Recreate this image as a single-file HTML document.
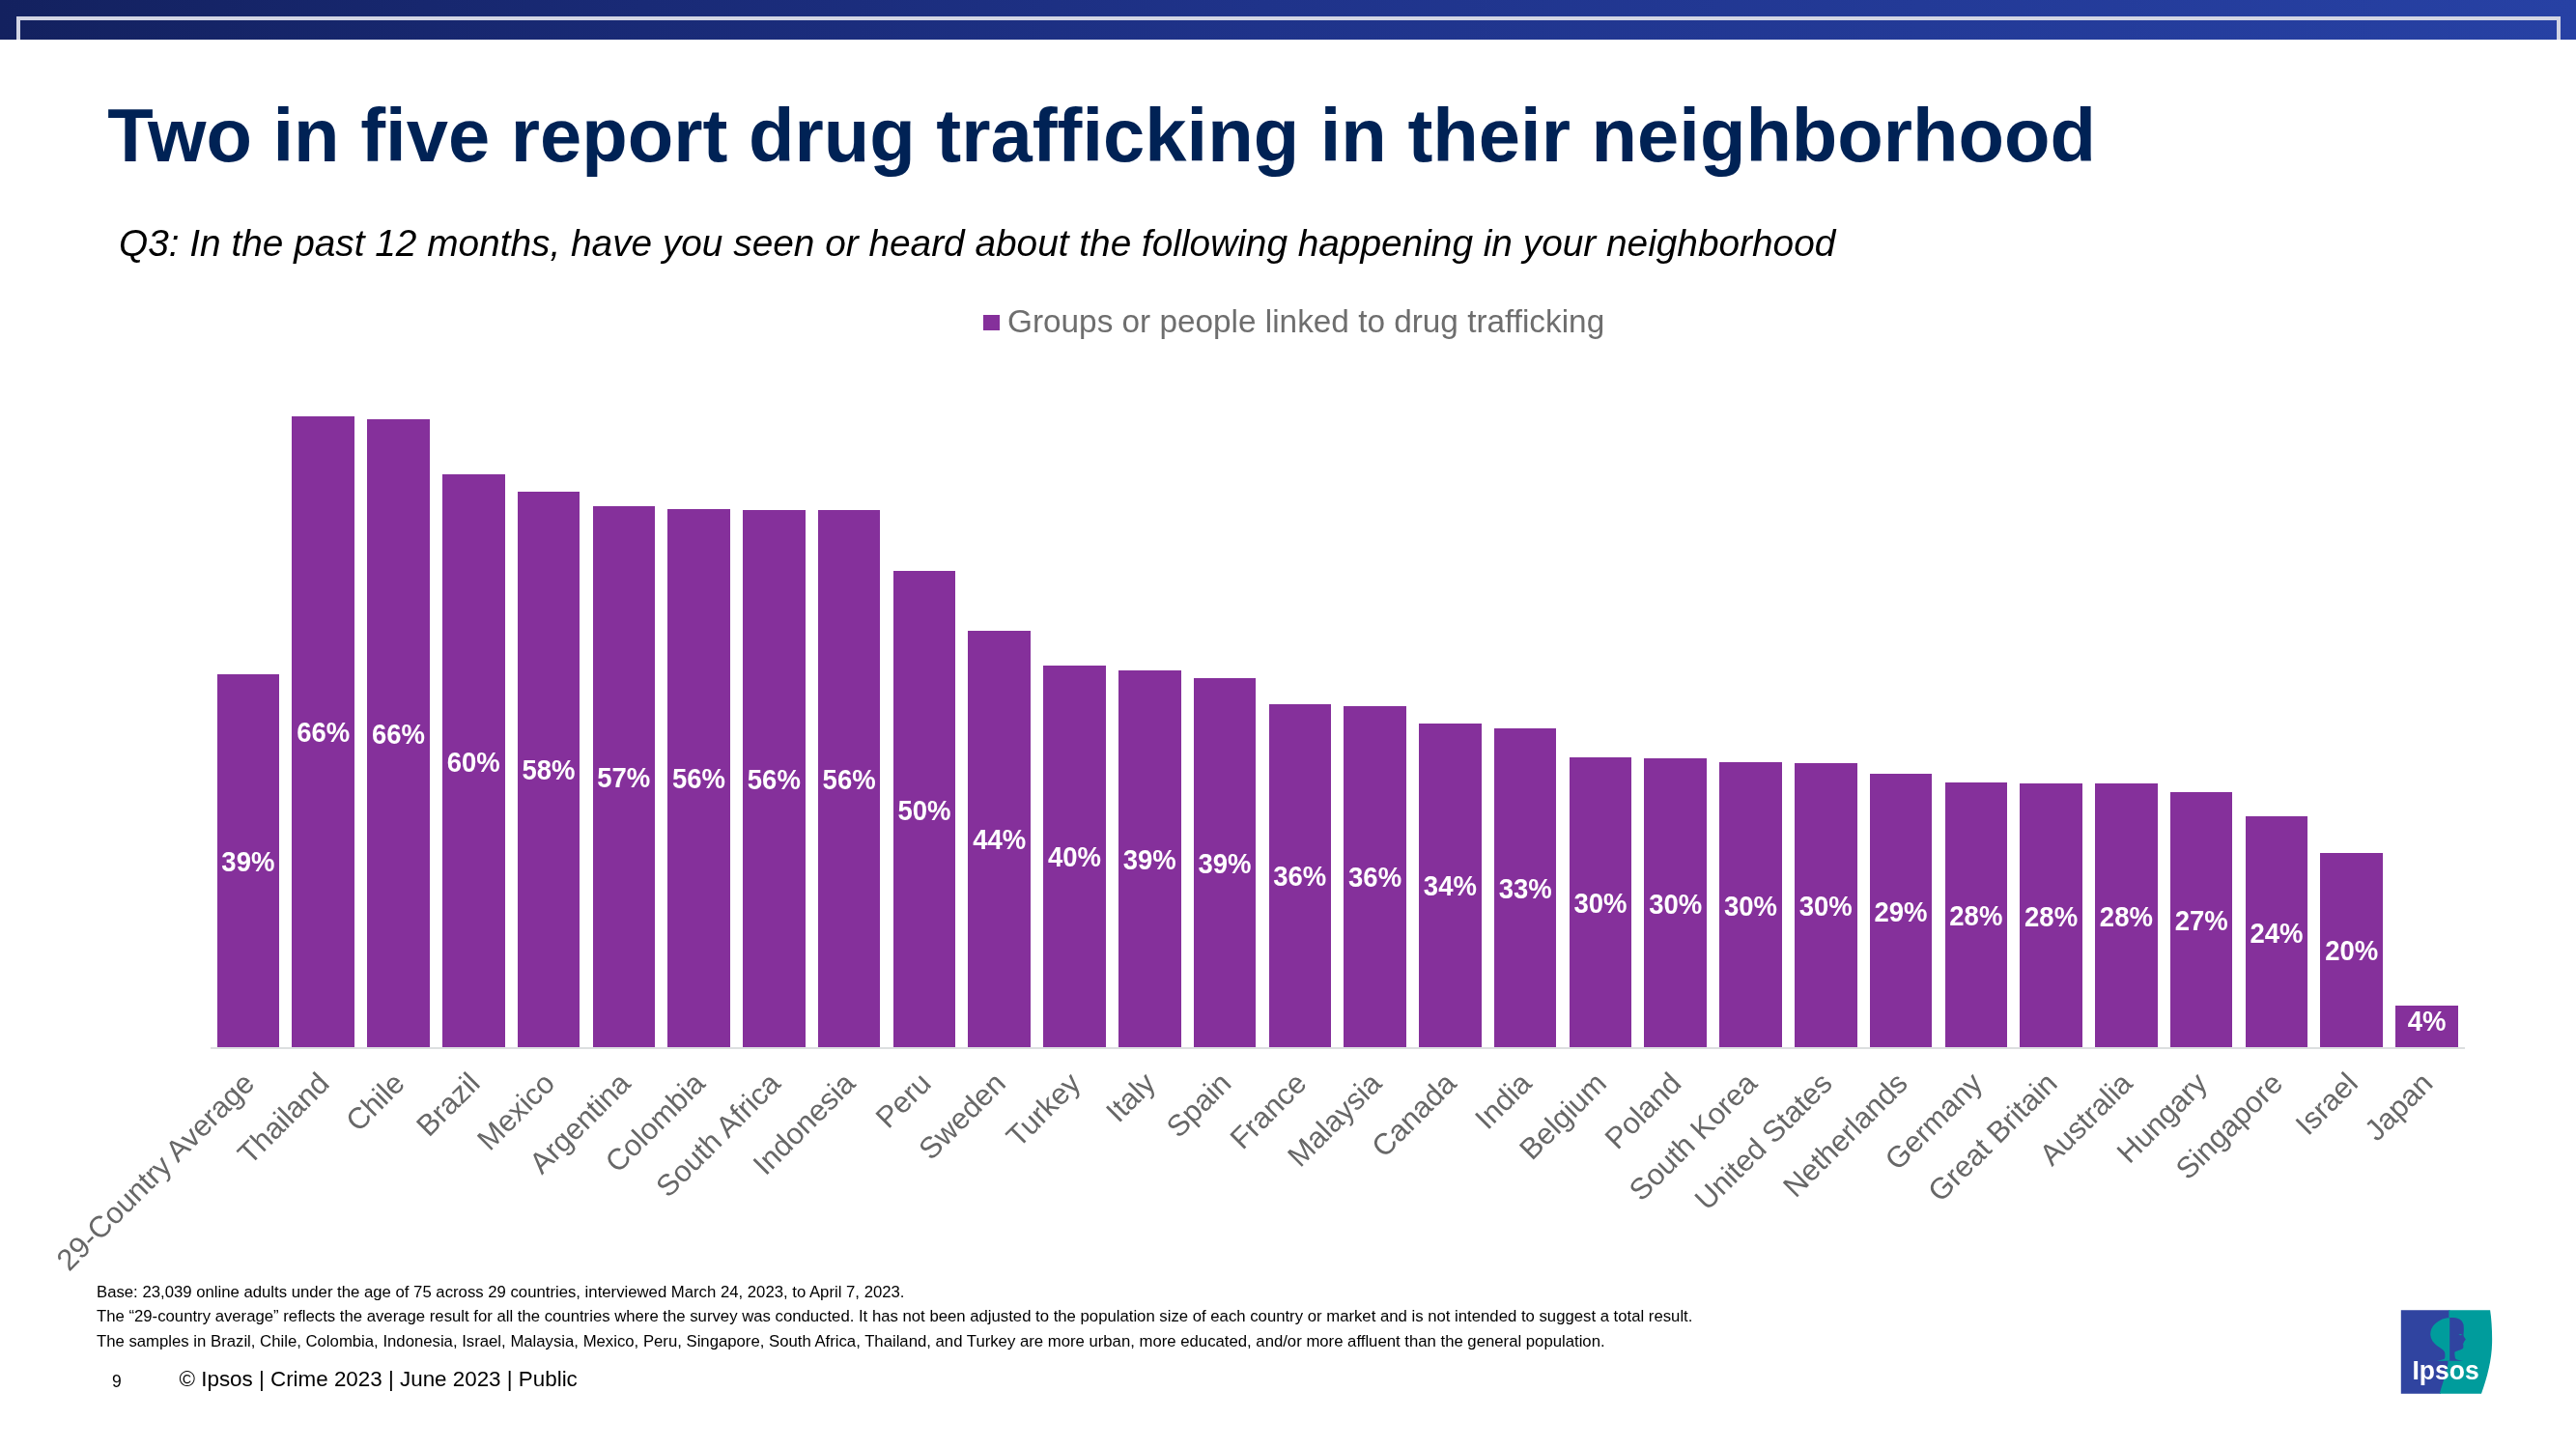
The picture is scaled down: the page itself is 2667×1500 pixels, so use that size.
<!DOCTYPE html>
<html><head><meta charset="utf-8">
<style>
*{margin:0;padding:0;box-sizing:border-box}
html,body{width:2667px;height:1500px;overflow:hidden;background:#fff}
body{position:relative;font-family:"Liberation Sans",sans-serif;-webkit-font-smoothing:antialiased}
.topbar{position:absolute;left:0;top:0;width:2667px;height:41px;background:linear-gradient(90deg,#13215F 0%,#192A76 25%,#1F338A 49%,#2741A4 100%)}
.frame{position:absolute;left:17px;top:17px;width:2633.5px;height:24px;border:4px solid #D2D5E4;border-bottom:none}
.title{position:absolute;left:111.2px;top:89.5px;font-size:77.75px;font-weight:bold;color:#002255;white-space:nowrap;line-height:100px}
.sub{position:absolute;left:123px;top:226.5px;font-size:38.8px;font-style:italic;color:#000;white-space:nowrap;line-height:50px}
.legend{position:absolute;left:1018px;top:316px;font-size:33.33px;color:#6E6E6E;white-space:nowrap;line-height:40px}
.legend i{position:absolute;left:0;top:10px;width:17px;height:16px;background:#85309B}
.legend span{position:absolute;left:25px;top:-2.6px}
.bar{position:absolute;background:#85309B}
.bar span{position:absolute;left:0;right:0;transform:translateY(-50%) translateY(1.6px) scaleY(1.05);text-align:center;color:#fff;font-weight:bold;font-size:27.5px;line-height:1;white-space:nowrap}
.axis{position:absolute;left:218px;top:1084px;width:2333.5px;height:2px;background:#DCDFE0}
.cat{position:absolute;width:0;height:0}
.cat span{position:absolute;right:0;top:0;transform-origin:100% 0;transform:rotate(-45deg);font-size:30.85px;color:#676767;white-space:nowrap;line-height:31px}
.fn{position:absolute;left:100px;font-size:16.73px;color:#000;white-space:nowrap;line-height:20px}
.pg{position:absolute;left:116px;top:1419px;font-size:17.5px;color:#000;line-height:22px}
.foot{position:absolute;left:185.5px;top:1415.3px;font-size:22.4px;color:#000;white-space:nowrap;line-height:26px}
.logo{position:absolute;left:2485px;top:1356px;width:96px;height:87px}
#root{position:absolute;left:0;top:0;width:2667px;height:1500px;will-change:transform}
</style></head><body><div id="root">
<div class="topbar"></div><div class="frame"></div>
<div class="title">Two in five report drug trafficking in their neighborhood</div>
<div class="sub">Q3: In the past 12 months, have you seen or heard about the following happening in your neighborhood</div>
<div class="legend"><i></i><span>Groups or people linked to drug trafficking</span></div>
<div class="bar" style="left:224.60px;top:698.00px;width:64.6px;height:386.00px"><span style="top:193.00px">39%</span></div><div class="cat" style="left:246.70px;top:1104.80px"><span>29-Country Average</span></div><div class="bar" style="left:302.38px;top:430.50px;width:64.6px;height:653.50px"><span style="top:326.75px">66%</span></div><div class="cat" style="left:324.48px;top:1104.80px"><span>Thailand</span></div><div class="bar" style="left:380.16px;top:433.60px;width:64.6px;height:650.40px"><span style="top:325.20px">66%</span></div><div class="cat" style="left:402.26px;top:1104.80px"><span>Chile</span></div><div class="bar" style="left:457.94px;top:491.00px;width:64.6px;height:593.00px"><span style="top:296.50px">60%</span></div><div class="cat" style="left:480.04px;top:1104.80px"><span>Brazil</span></div><div class="bar" style="left:535.72px;top:508.90px;width:64.6px;height:575.10px"><span style="top:287.55px">58%</span></div><div class="cat" style="left:557.82px;top:1104.80px"><span>Mexico</span></div><div class="bar" style="left:613.50px;top:523.80px;width:64.6px;height:560.20px"><span style="top:280.10px">57%</span></div><div class="cat" style="left:635.60px;top:1104.80px"><span>Argentina</span></div><div class="bar" style="left:691.28px;top:526.60px;width:64.6px;height:557.40px"><span style="top:278.70px">56%</span></div><div class="cat" style="left:713.38px;top:1104.80px"><span>Colombia</span></div><div class="bar" style="left:769.06px;top:527.60px;width:64.6px;height:556.40px"><span style="top:278.20px">56%</span></div><div class="cat" style="left:791.16px;top:1104.80px"><span>South Africa</span></div><div class="bar" style="left:846.84px;top:527.60px;width:64.6px;height:556.40px"><span style="top:278.20px">56%</span></div><div class="cat" style="left:868.94px;top:1104.80px"><span>Indonesia</span></div><div class="bar" style="left:924.62px;top:591.00px;width:64.6px;height:493.00px"><span style="top:246.50px">50%</span></div><div class="cat" style="left:946.72px;top:1104.80px"><span>Peru</span></div><div class="bar" style="left:1002.40px;top:652.70px;width:64.6px;height:431.30px"><span style="top:215.65px">44%</span></div><div class="cat" style="left:1024.50px;top:1104.80px"><span>Sweden</span></div><div class="bar" style="left:1080.18px;top:688.90px;width:64.6px;height:395.10px"><span style="top:197.55px">40%</span></div><div class="cat" style="left:1102.28px;top:1104.80px"><span>Turkey</span></div><div class="bar" style="left:1157.96px;top:694.10px;width:64.6px;height:389.90px"><span style="top:194.95px">39%</span></div><div class="cat" style="left:1180.06px;top:1104.80px"><span>Italy</span></div><div class="bar" style="left:1235.74px;top:702.10px;width:64.6px;height:381.90px"><span style="top:190.95px">39%</span></div><div class="cat" style="left:1257.84px;top:1104.80px"><span>Spain</span></div><div class="bar" style="left:1313.52px;top:728.90px;width:64.6px;height:355.10px"><span style="top:177.55px">36%</span></div><div class="cat" style="left:1335.62px;top:1104.80px"><span>France</span></div><div class="bar" style="left:1391.30px;top:730.90px;width:64.6px;height:353.10px"><span style="top:176.55px">36%</span></div><div class="cat" style="left:1413.40px;top:1104.80px"><span>Malaysia</span></div><div class="bar" style="left:1469.08px;top:748.90px;width:64.6px;height:335.10px"><span style="top:167.55px">34%</span></div><div class="cat" style="left:1491.18px;top:1104.80px"><span>Canada</span></div><div class="bar" style="left:1546.86px;top:754.10px;width:64.6px;height:329.90px"><span style="top:164.95px">33%</span></div><div class="cat" style="left:1568.96px;top:1104.80px"><span>India</span></div><div class="bar" style="left:1624.64px;top:784.10px;width:64.6px;height:299.90px"><span style="top:149.95px">30%</span></div><div class="cat" style="left:1646.74px;top:1104.80px"><span>Belgium</span></div><div class="bar" style="left:1702.42px;top:785.30px;width:64.6px;height:298.70px"><span style="top:149.35px">30%</span></div><div class="cat" style="left:1724.52px;top:1104.80px"><span>Poland</span></div><div class="bar" style="left:1780.20px;top:789.00px;width:64.6px;height:295.00px"><span style="top:147.50px">30%</span></div><div class="cat" style="left:1802.30px;top:1104.80px"><span>South Korea</span></div><div class="bar" style="left:1857.98px;top:789.90px;width:64.6px;height:294.10px"><span style="top:147.05px">30%</span></div><div class="cat" style="left:1880.08px;top:1104.80px"><span>United States</span></div><div class="bar" style="left:1935.76px;top:801.10px;width:64.6px;height:282.90px"><span style="top:141.45px">29%</span></div><div class="cat" style="left:1957.86px;top:1104.80px"><span>Netherlands</span></div><div class="bar" style="left:2013.54px;top:810.30px;width:64.6px;height:273.70px"><span style="top:136.85px">28%</span></div><div class="cat" style="left:2035.64px;top:1104.80px"><span>Germany</span></div><div class="bar" style="left:2091.32px;top:811.10px;width:64.6px;height:272.90px"><span style="top:136.45px">28%</span></div><div class="cat" style="left:2113.42px;top:1104.80px"><span>Great Britain</span></div><div class="bar" style="left:2169.10px;top:811.10px;width:64.6px;height:272.90px"><span style="top:136.45px">28%</span></div><div class="cat" style="left:2191.20px;top:1104.80px"><span>Australia</span></div><div class="bar" style="left:2246.88px;top:819.80px;width:64.6px;height:264.20px"><span style="top:132.10px">27%</span></div><div class="cat" style="left:2268.98px;top:1104.80px"><span>Hungary</span></div><div class="bar" style="left:2324.66px;top:845.00px;width:64.6px;height:239.00px"><span style="top:119.50px">24%</span></div><div class="cat" style="left:2346.76px;top:1104.80px"><span>Singapore</span></div><div class="bar" style="left:2402.44px;top:882.80px;width:64.6px;height:201.20px"><span style="top:100.60px">20%</span></div><div class="cat" style="left:2424.54px;top:1104.80px"><span>Israel</span></div><div class="bar" style="left:2480.22px;top:1040.90px;width:64.6px;height:43.10px"><span style="top:15.30px">4%</span></div><div class="cat" style="left:2502.32px;top:1104.80px"><span>Japan</span></div>
<div class="axis"></div>
<div class="fn" style="top:1327.8px">Base: 23,039 online adults under the age of 75 across 29 countries, interviewed March 24, 2023, to April 7, 2023.</div>
<div class="fn" style="top:1353.3px">The “29-country average” reflects the average result for all the countries where the survey was conducted. It has not been adjusted to the population size of each country or market and is not intended to suggest a total result.</div>
<div class="fn" style="top:1378.8px">The samples in Brazil, Chile, Colombia, Indonesia, Israel, Malaysia, Mexico, Peru, Singapore, South Africa, Thailand, and Turkey are more urban, more educated, and/or more affluent than the general population.</div>
<div class="pg">9</div>
<div class="foot">© Ipsos | Crime 2023 | June 2023 | Public</div>
<svg class="logo" viewBox="0 0 96 87">
<defs>
<clipPath id="cl"><rect x="0" y="0" width="51.2" height="87"/></clipPath>
<path id="head" d="M51.6 8 C46 8.3 41 10 36.5 14 C32.5 17.5 31 22 31.3 26 C31.6 30 34 34 38 37 C41 39 44 40.5 46 43.5 C46.6 46 46.5 49 46 50.5 C43 52 40 52.5 37 52.8 L65 52.8 C61 52.3 57.5 51.5 57 50 C56.3 47.5 56.2 45 56.5 43.5 C58.5 42.5 62 42 64.5 40.3 C65.6 39.2 65.6 38 65.2 37 C65.5 36.2 65.4 35.6 64.9 35.2 C65.6 34.5 66.2 33.8 66.1 32.9 C66.5 31.8 67.8 31 67.8 30.4 C67 29.3 66.2 28.3 65.8 27.5 C65.5 26.5 65.5 25.5 65.6 24 C65.9 21.5 65.9 18.5 65.6 15.5 C65 12.5 63 10.2 60 9 C57 8 54.5 7.9 51.6 8 Z"/>
</defs>
<path d="M0.8 0.2 H51.4 C51.5 20 51.4 40 50.4 55 C49.4 62 46.8 70 41.8 86.7 H0.8 Z" fill="#3044A0"/>
<path d="M50.4 0.2 H93.1 C94.6 10 95.3 22 95.1 34 C94.8 52 90 70 84 86.7 H40.8 C45.8 70 48.4 62 49.4 55 C50.4 40 50.5 20 50.4 0.2 Z" fill="#009C9C"/>
<use href="#head" fill="#3044A0"/>
<use href="#head" fill="#009C9C" clip-path="url(#cl)"/>
<path d="M60.5 25.6 C61.8 24.8 63.2 25 64.3 25.7 C63 26.3 61.8 26.3 60.5 25.6 Z" fill="#009C9C"/>
<text x="12.4" y="72.3" font-family="Liberation Sans" font-weight="bold" font-size="27.5" fill="#fff" textLength="69.3" lengthAdjust="spacingAndGlyphs">Ipsos</text>
</svg>
</div></body></html>
